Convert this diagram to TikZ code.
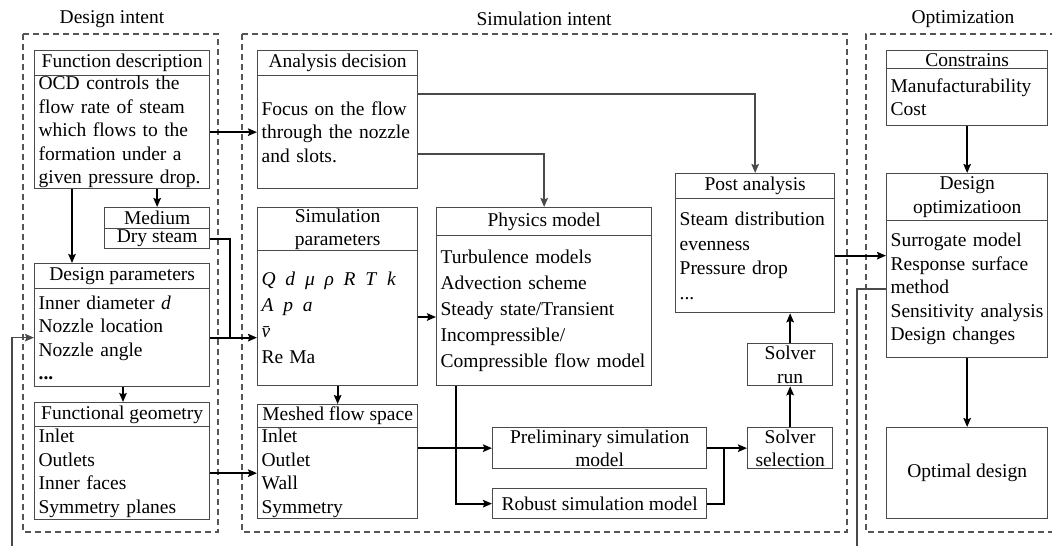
\documentclass[tikz,border=0pt]{standalone}
\usepackage{fontspec}
\setmainfont{Liberation Serif}
\usetikzlibrary{arrows.meta,calc}
\definecolor{boxc}{HTML}{4A4A4A}
\definecolor{dashc}{HTML}{555555}
\newcommand\bodyfont{\fontsize{19.5}{23.5}\selectfont}
\newcommand\wideskip{\fontsize{19.5}{26}\selectfont}

\tikzset{
  box/.style={draw=boxc, line width=1.3pt, inner sep=0pt, font=\bodyfont, anchor=north west},
  hd/.style={box, align=center},
  bd/.style={box, align=left, inner xsep=4pt},
  dashbox/.style={draw=dashc, line width=1.1pt, dash pattern=on 6pt off 4pt},
  tip/.style={-{Stealth[length=9pt,width=7.5pt,inset=1.5pt]}},
  arr/.style={line width=1.8pt, tip},
  garr/.style={arr, draw=boxc},
  fb/.style={line width=1.6pt, draw=boxc},
  grouptitle/.style={font=\bodyfont, anchor=center},
}

\begin{document}
\begin{tikzpicture}[x=1pt, y=-1pt]
\useasboundingbox (0,0) rectangle (1052,546);

% group frames and their titles
\draw[dashbox] (23,34) rectangle (218,532);
\draw[dashbox] (242,34) rectangle (847,532);
\draw[dashbox] (1056,34) -- (866,34) -- (866,532) -- (1056,532);
\node[grouptitle] (gDesign) at (112,19) {Design intent};
\node[grouptitle] (gSim) at (544,19) {Simulation intent};
\node[grouptitle] (gOpt) at (963,19) {Optimization};

% design intent
\node[hd, minimum width=175, minimum height=25] (fdT) at (34,50) {Function description};
\node[bd, text width=167, minimum height=113] (fdB) at (34,75)
  {OCD controls the\\flow rate of steam\\which flows to the\\formation under a\\given pressure drop.};
\node[hd, minimum width=105, minimum height=21] (mdT) at (104,207) {Medium};
\node[hd, minimum width=105, minimum height=20] (msB) at (104,228) {Dry steam};
\node[hd, minimum width=175, minimum height=25] (dpT) at (34,263) {Design parameters};
\node[bd, text width=167, minimum height=98] (dpB) at (34,288)
  {Inner diameter \textit{d}\\Nozzle location\\Nozzle angle\\\textbf{...}};
\node[hd, minimum width=175, minimum height=24] (fgT) at (34,402) {Functional geometry};
\node[bd, text width=167, minimum height=93] (fgB) at (34,426)
  {Inlet\\Outlets\\Inner faces\\Symmetry planes};

% simulation intent
\node[hd, minimum width=160, minimum height=25] (adT) at (257,50) {Analysis decision};
\node[bd, text width=152, minimum height=113] (adB) at (257,75)
  {Focus on the flow\\through the nozzle\\and slots.};
\node[hd, minimum width=160, minimum height=43] (spT) at (257,207) {Simulation\\parameters};
\node[bd, text width=152, minimum height=135, font=\wideskip] (spB) at (257,250)
  {\textit{Q}\enspace\textit{d}\enspace\textit{μ}\enspace\textit{ρ}\enspace\textit{R}\enspace\textit{T}\enspace\textit{k}\\
   \textit{A}\enspace\textit{p}\enspace\textit{a}\\
   \textit{\={v}}\\
   Re\hspace{6pt}Ma};
\node[hd, minimum width=160, minimum height=23] (mfT) at (257,404) {Meshed flow space};
\node[bd, text width=152, minimum height=91] (mfB) at (257,427)
  {Inlet\\Outlet\\Wall\\Symmetry};
\node[hd, minimum width=215, minimum height=28] (pmT) at (436,207) {Physics model};
\node[bd, text width=207, minimum height=150, font=\wideskip] (pmB) at (436,235)
  {Turbulence models\\Advection scheme\\Steady state/Transient\\Incompressible/\\Compressible flow model};
\node[hd, minimum width=214, minimum height=41] (pr) at (492,427) {Preliminary simulation\\model};
\node[hd, minimum width=214, minimum height=30] (rb) at (492,488) {Robust simulation model};
\node[hd, minimum width=85, minimum height=41] (ss) at (747,427) {Solver\\selection};
\node[hd, minimum width=85, minimum height=42] (sr) at (747,343) {Solver\\run};
\node[hd, minimum width=159, minimum height=25] (paT) at (675,173) {Post analysis};
\node[bd, text width=151, minimum height=114, font={\fontsize{19.5}{24.5}\selectfont}] (paB) at (675,198)
  {Steam distribution\\evenness\\Pressure drop\\...};

% optimization
\node[hd, minimum width=161, minimum height=18] (csT) at (886,50) {Constrains};
\node[bd, text width=153, minimum height=57] (csB) at (886,68) {Manufacturability\\Cost};
\node[hd, minimum width=161, minimum height=47] (doT) at (886,173) {Design\\optimizatioon};
\node[bd, text width=153, minimum height=137] (doB) at (886,220)
  {Surrogate model\\Response surface\\method\\Sensitivity analysis\\Design changes};
\node[hd, minimum width=161, minimum height=91] (od) at (886,427) {Optimal design};

% loose ends of the feedback loop
\coordinate (fbR) at (857,546);
\coordinate (fbL) at (12,546);
\coordinate (steamJoin) at (230,337);
\coordinate (solverJoin) at (724,447.5);

% connectors: design intent
\draw[arr] (fdB.south -| 72,0) -- (dpT.north -| 72,0);
\draw[arr] (fdB.south -| mdT.north) -- (mdT.north);
\draw[arr] (fdB.east) -- (adB.west);
\draw[line width=1.8pt] (msB.east) -| (steamJoin);
\draw[arr] (dpB.east) -- (dpB.east -| spB.west);
\draw[arr] (dpB.south -| 123,0) -- (fgT.north -| 123,0);
\draw[arr] (fgB.east) -- (mfB.west);

% connectors: simulation intent
\draw[garr] ($(adB.north east)+(0,19)$) -| (paT.north);
\draw[garr] ($(adB.south east)+(0,-35)$) -| (pmT.north);
\draw[arr] (spB.east |- 0,317) -- (pmB.west |- 0,317);
\draw[arr] (spB.south) -- (mfT.north);
\draw[arr] (pr.west -| mfB.east) -- (pr.west);
\draw[arr] ($(pmB.south west)+(20,0)$) |- (rb.west);
\draw[arr] (pr.east) -- (ss.west);
\draw[line width=1.8pt] (rb.east) -| (solverJoin);
\draw[arr] (ss.north) -- (sr.south);
\draw[arr] (sr.north) -- (paB.south -| sr.north);
\draw[arr] (paB.east) -- (paB.east -| doB.west);

% connectors: optimization
\draw[arr] (csB.south) -- (doT.north);
\draw[arr] (doB.south) -- (od.north);

% feedback loop
\draw[fb] (doB.west |- 0,289) -| (fbR);
\draw[garr, line width=1.6pt] (fbL) |- (dpB.west);
\end{tikzpicture}
\end{document}
